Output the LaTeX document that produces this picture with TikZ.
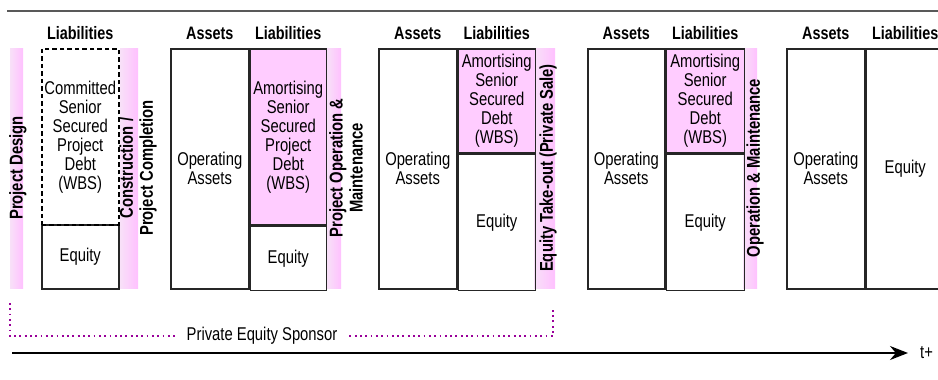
\documentclass[tikz,border=0pt]{standalone}
\usepackage{fontspec}
\setmainfont{Liberation Sans}[FakeStretch=0.8]
\usetikzlibrary{positioning}
\usetikzlibrary{arrows.meta}
\definecolor{debtpink}{RGB}{255,204,255}
\definecolor{barpink}{RGB}{255,192,255}
\definecolor{barlight}{RGB}{248,224,248}
\definecolor{sponsor}{RGB}{153,0,153}

\begin{document}
\begin{tikzpicture}[x=1pt, y=-1pt,
        acct/.style={draw=black!85, line width=1.5pt, anchor=north west, inner sep=0pt,
            align=center, font=\fontsize{18.5}{19}\selectfont},
        debt/.style={acct, fill=debtpink},
        committed/.style={acct, draw=black, dash pattern=on 4.5pt off 3pt},
        head/.style={font=\bfseries\fontsize{18}{20}\selectfont},
        phase/.style={anchor=north west, inner sep=0pt, minimum height=240,
            left color=barlight, right color=barpink},
        phasetext/.style={rotate=90, align=center, font=\bfseries\fontsize{18.5}{20}\selectfont},
        sponsorline/.style={draw=sponsor, line width=1.8pt, dash pattern=on 1.8pt off 3.5pt}
        ]
    \useasboundingbox (0,0) rectangle (938,380);
    \clip (0,0) rectangle (938,380);
    % rule along the top
    \coordinate (topL) at (7,11);
    \coordinate (topR) at (938,11);
    \draw[gray!70!black, line width=2pt] (topL) -- (topR);

    % phase bars
    \node[phase, minimum width=13] (design) at (10,48) {};
    \node[phase, minimum width=18] (construct) at (120,48) {};
    \node[phase, minimum width=14] (operate) at (327,48) {};
    \node[phase, minimum width=21] (takeout) at (534,48) {};
    \node[phase, minimum width=14] (maintain) at (743,48) {};
    \node[phasetext] at (18,168) {Project Design};
    \node[phasetext] at (138,168) {Construction /\\Project Completion};
    \node[phasetext] at (346,168) {Project Operation \&\\Maintenance};
    \node[phasetext] at (548,168) {Equity Take-out (Private Sale)};
    \node[phasetext] at (755,168) {Operation \& Maintenance};

    % balance sheet 1
    \node[acct, minimum width=77, minimum height=64] (eq1) at (41,224) {Equity};
    \node[committed, minimum width=77, minimum height=176] (debt1) at (41,48)
        {Committed\\Senior\\Secured\\Project\\Debt\\(WBS)};
    \node[head] at ([yshift=15pt]debt1.north) {Liabilities};

    % balance sheet 2
    \node[acct, minimum width=78, minimum height=240] (oa2) at (170,48) {Operating\\Assets};
    \node[debt, minimum width=76, minimum height=176] (debt2) at (oa2.north east)
        {Amortising\\Senior\\Secured\\Project\\Debt\\(WBS)};
    \node[acct, minimum width=76, minimum height=64] (eq2) at (debt2.south west) {Equity};
    \node[head] at ([yshift=15pt]oa2.north) {Assets};
    \node[head] at ([yshift=15pt]debt2.north) {Liabilities};

    % balance sheet 3
    \node[acct, minimum width=78, minimum height=240] (oa3) at (378,48) {Operating\\Assets};
    \node[debt, minimum width=77, minimum height=104] (debt3) at (oa3.north east)
        {Amortising\\Senior\\Secured\\Debt\\(WBS)};
    \node[acct, minimum width=77, minimum height=136] (eq3) at (debt3.south west) {Equity};
    \node[head] at ([yshift=15pt]oa3.north) {Assets};
    \node[head] at ([yshift=15pt]debt3.north) {Liabilities};

    % balance sheet 4
    \node[acct, minimum width=77, minimum height=240] (oa4) at (587,48) {Operating\\Assets};
    \node[debt, minimum width=78, minimum height=104] (debt4) at (oa4.north east)
        {Amortising\\Senior\\Secured\\Debt\\(WBS)};
    \node[acct, minimum width=78, minimum height=136] (eq4) at (debt4.south west) {Equity};
    \node[head] at ([yshift=15pt]oa4.north) {Assets};
    \node[head] at ([yshift=15pt]debt4.north) {Liabilities};

    % balance sheet 5
    \node[acct, minimum width=78, minimum height=240] (oa5) at (786,48) {Operating\\Assets};
    \node[acct, minimum width=78, minimum height=240] (eq5) at (oa5.north east) {Equity};
    \node[head] at ([yshift=15pt]oa5.north) {Assets};
    \node[head] at ([yshift=15pt]eq5.north) {Liabilities};

    % sponsor bracket
    \coordinate (spL) at (10,303);
    \coordinate (spR) at (553,308);
    \node[font=\fontsize{18.5}{19}\selectfont, inner sep=0pt] (sponsor) at (262,336) {Private Equity Sponsor};
    \draw[sponsorline] (spL) |- ([xshift=-10pt]sponsor.west);
    \draw[sponsorline] ([xshift=12pt]sponsor.east) -| (spR);

    % time axis
    \coordinate (tStart) at (12,353);
    \node[font=\fontsize{18.5}{19}\selectfont, anchor=west, inner sep=0pt] (tEnd) at (920,353) {t+};
    \draw[line width=1.5pt, -{Stealth[length=18pt, width=14pt]}] (tStart) -- ([xshift=-12pt]tEnd.west);
\end{tikzpicture}
\end{document}
